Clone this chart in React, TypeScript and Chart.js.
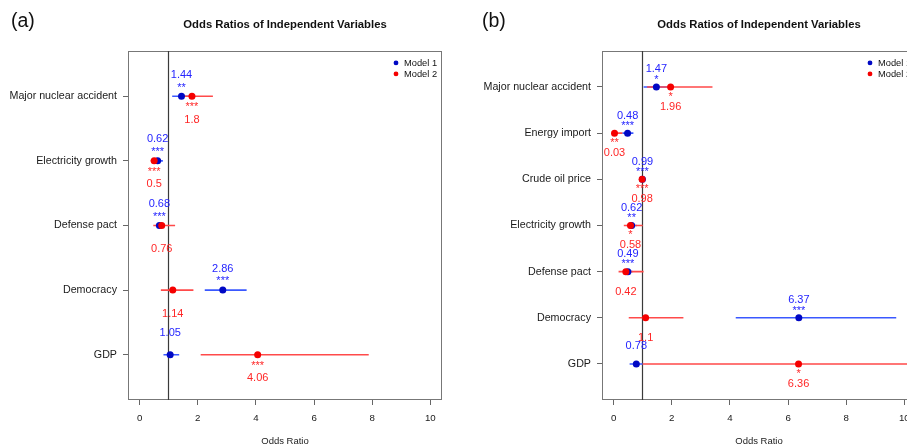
import React, { useEffect, useRef } from "react";
import { Chart, registerables } from "chart.js";

Chart.register(...registerables);

// ---------------- DATA ----------------
const chartTitle = "Odds Ratios of Independent Variables";
const xAxisTitle = "Odds Ratio";
const xTickValues = [0, 2, 4, 6, 8, 10];
const referenceOdds = 1;
const seriesNames = ["Model 1", "Model 2"];

// Panel (a)
const categoriesA = ["Major nuclear accident", "Electricity growth", "Defense pact", "Democracy", "GDP"];
const model1OddsA = [1.44, 0.62, 0.68, 2.86, 1.05];
const model1LowA = [1.12, 0.45, 0.55, 2.24, 0.82];
const model1HighA = [1.75, 0.8, 0.85, 3.68, 1.36];
const model1StarsA = ["**", "***", "***", "***", ""];
const model2OddsA = [1.8, 0.5, 0.76, 1.14, 4.06];
const model2LowA = [1.48, 0.38, 0.47, 0.73, 2.1];
const model2HighA = [2.52, 0.62, 1.22, 1.85, 7.88];
const model2StarsA = ["***", "***", "", "", "***"];

// Panel (b)
const categoriesB = [
  "Major nuclear accident",
  "Energy import",
  "Crude oil price",
  "Electricity growth",
  "Defense pact",
  "Democracy",
  "GDP",
];
const model1OddsB = [1.47, 0.48, 0.99, 0.62, 0.49, 6.37, 0.78];
const model1LowB = [1.03, 0.3, 0.97, 0.45, 0.35, 4.2, 0.55];
const model1HighB = [1.9, 0.68, 1.01, 0.8, 0.65, 9.72, 1.0];
const model1StarsB = ["*", "***", "***", "**", "***", "***", ""];
const model2OddsB = [1.96, 0.03, 0.98, 0.58, 0.42, 1.1, 6.36];
const model2LowB = [1.15, 0.0, 0.96, 0.35, 0.17, 0.52, 1.0];
const model2HighB = [3.4, 0.3, 1.0, 1.0, 1.03, 2.4, 20];
const model2StarsB = ["*", "**", "***", "*", "", "", "*"];

// ---------------- STYLE ----------------
const FONT = "'Liberation Sans', Arial, Helvetica, sans-serif";
const BLUE_POINT = "#0008c4";
const RED_POINT = "#f50000";
const BLUE_LINE = "#3a58ff";
const RED_LINE = "#ff4a4a";
const BLUE_TEXT = "#2424ff";
const RED_TEXT = "#ff2626";
const BOX = "#777777";
const REFLINE = "#3a3a3a";

type Panel = {
  cats: string[];
  series: { odds: number[]; low: number[]; high: number[]; stars: string[] }[];
  yMin: number;
  yMax: number;
  yAxisWidth: number;
  padRight: number;
  off: { l1: number; s1: number; s2: number; l2: number };
};

const panelA: Panel = {
  cats: categoriesA,
  series: [
    { odds: model1OddsA, low: model1LowA, high: model1HighA, stars: model1StarsA },
    { odds: model2OddsA, low: model2LowA, high: model2HighA, stars: model2StarsA },
  ],
  yMin: 0.3,
  yMax: 5.7,
  yAxisWidth: 128,
  padRight: 11,
  off: { l1: -22.5, s1: -12, s2: 7.5, l2: 22.5 },
};

const panelB: Panel = {
  cats: categoriesB,
  series: [
    { odds: model1OddsB, low: model1LowB, high: model1HighB, stars: model1StarsB },
    { odds: model2OddsB, low: model2LowB, high: model2HighB, stars: model2StarsB },
  ],
  yMin: 0.22,
  yMax: 7.78,
  yAxisWidth: 149,
  padRight: 17,
  off: { l1: -18.5, s1: -10.5, s2: 6.5, l2: 19 },
};

function makePlugin(p: Panel) {
  const lineColors = [BLUE_LINE, RED_LINE];
  const textColors = [BLUE_TEXT, RED_TEXT];
  return {
    id: "forest",
    beforeDatasetsDraw(chart: any) {
      const { ctx, chartArea: a, scales } = chart;
      const x = scales.x;
      const y = scales.y;
      ctx.save();
      // plot box
      ctx.strokeStyle = BOX;
      ctx.lineWidth = 1;
      ctx.strokeRect(
        Math.round(a.left) + 0.5,
        Math.round(a.top) + 0.5,
        Math.round(a.right - a.left) - 1,
        Math.round(a.bottom - a.top) - 1
      );
      // reference line
      const xr = Math.floor(x.getPixelForValue(referenceOdds)) + 0.5;
      ctx.strokeStyle = REFLINE;
      ctx.lineWidth = 1.2;
      ctx.beginPath();
      ctx.moveTo(xr, a.top);
      ctx.lineTo(xr, a.bottom);
      ctx.stroke();
      // confidence intervals
      ctx.beginPath();
      ctx.rect(a.left + 1, a.top + 1, a.right - a.left - 2, a.bottom - a.top - 2);
      ctx.clip();
      p.series.forEach((s, si) => {
        ctx.strokeStyle = lineColors[si];
        ctx.lineWidth = 1.6;
        ctx.beginPath();
        s.low.forEach((lo, i) => {
          const py = y.getPixelForValue(i + 1);
          ctx.moveTo(x.getPixelForValue(lo), py);
          ctx.lineTo(x.getPixelForValue(s.high[i]), py);
        });
        ctx.stroke();
      });
      ctx.restore();
    },
    afterDatasetsDraw(chart: any) {
      const { ctx, chartArea: a, scales } = chart;
      const x = scales.x;
      const y = scales.y;
      ctx.save();
      const size = 11;
      ctx.font = `${size}px ${FONT}`;
      ctx.textAlign = "center";
      ctx.textBaseline = "alphabetic";
      p.series.forEach((s, si) => {
        ctx.fillStyle = textColors[si];
        s.odds.forEach((v, i) => {
          const px = x.getPixelForValue(v);
          const py = y.getPixelForValue(i + 1);
          const labelOff = si === 0 ? p.off.l1 : p.off.l2;
          const starOff = si === 0 ? p.off.s1 : p.off.s2;
          ctx.fillText(String(v), px, py + labelOff + 0.358 * size);
          if (s.stars[i]) ctx.fillText(s.stars[i], px, py + starOff + 0.575 * size);
        });
      });
      // legend
      const ds = chart.data.datasets;
      ctx.font = `9.3px ${FONT}`;
      ctx.textAlign = "left";
      ctx.textBaseline = "middle";
      ds.forEach((d: any, i: number) => {
        const ly = a.top + 12 + 11 * i;
        const lx = a.right - 46;
        ctx.fillStyle = d.backgroundColor;
        ctx.beginPath();
        ctx.arc(lx, ly, 2.4, 0, Math.PI * 2);
        ctx.fill();
        ctx.fillStyle = "#111";
        ctx.fillText(d.label, lx + 8, ly + 0.5);
      });
      ctx.restore();
    },
  };
}

function makeConfig(p: Panel): any {
  const pointColors = [BLUE_POINT, RED_POINT];
  const gridOpts = {
    display: true,
    drawOnChartArea: false,
    drawTicks: true,
    tickLength: 5,
    color: "#666",
    lineWidth: 1,
  };
  return {
    type: "scatter",
    data: {
      datasets: p.series.map((s, si) => ({
        label: seriesNames[si],
        data: s.odds.map((v, i) => ({ x: v, y: i + 1 })),
        backgroundColor: pointColors[si],
        borderColor: pointColors[si],
        borderWidth: 0,
        pointRadius: 3.5,
        order: si === 0 ? 2 : 1,
        clip: 0,
      })),
    },
    options: {
      animation: false,
      responsive: false,
      events: [],
      layout: { padding: { left: 0, right: p.padRight, top: 0, bottom: 0 } },
      plugins: {
        legend: { display: false },
        tooltip: { enabled: false },
        title: {
          display: true,
          text: chartTitle,
          fullSize: false,
          color: "#111",
          font: { family: FONT, size: 11.3, weight: "bold" },
          padding: { top: 18, bottom: 19.4 },
        },
      },
      scales: {
        x: {
          type: "linear",
          min: -0.4,
          max: 10.4,
          afterBuildTicks: (s: any) => {
            s.ticks = xTickValues.map((v) => ({ value: v }));
          },
          afterFit: (s: any) => {
            s.height = 47;
          },
          grid: gridOpts,
          border: { display: false },
          ticks: {
            autoSkip: false,
            maxRotation: 0,
            padding: 8,
            color: "#1a1a1a",
            font: { family: FONT, size: 9.7 },
          },
          title: {
            display: true,
            text: xAxisTitle,
            color: "#1a1a1a",
            font: { family: FONT, size: 9.5 },
            padding: { top: 0, bottom: 0 },
          },
        },
        y: {
          type: "linear",
          reverse: true,
          min: p.yMin,
          max: p.yMax,
          afterBuildTicks: (s: any) => {
            s.ticks = p.cats.map((_, i) => ({ value: i + 1 }));
          },
          afterFit: (s: any) => {
            s.width = p.yAxisWidth;
          },
          grid: gridOpts,
          border: { display: false },
          ticks: {
            autoSkip: false,
            padding: 6,
            color: "#1a1a1a",
            font: { family: FONT, size: 10.7 },
            callback: (_v: any, i: number) => p.cats[i],
          },
        },
      },
    },
    plugins: [makePlugin(p)],
  };
}

function PanelChart({ p, left, width }: { p: Panel; left: number; width: number }) {
  const ref = useRef<HTMLCanvasElement>(null);
  useEffect(() => {
    if (!ref.current) return;
    const chart = new Chart(ref.current, makeConfig(p));
    return () => chart.destroy();
  }, [p]);
  return (
    <canvas
      ref={ref}
      width={width}
      height={447}
      style={{ position: "absolute", left, top: 0, width, height: 447 }}
    />
  );
}

const tagStyle: React.CSSProperties = {
  position: "absolute",
  top: 11,
  fontFamily: FONT,
  fontSize: 19.5,
  lineHeight: 1,
  color: "#111",
};

export default function App() {
  return (
    <div
      style={{
        position: "fixed",
        left: 0,
        top: 0,
        width: 907,
        height: 447,
        overflow: "hidden",
        background: "#fff",
      }}
    >
      <PanelChart p={panelA} left={0} width={453} />
      <PanelChart p={panelB} left={453} width={480} />
      <div style={{ ...tagStyle, left: 11 }}>(a)</div>
      <div style={{ ...tagStyle, left: 482 }}>(b)</div>
    </div>
  );
}
